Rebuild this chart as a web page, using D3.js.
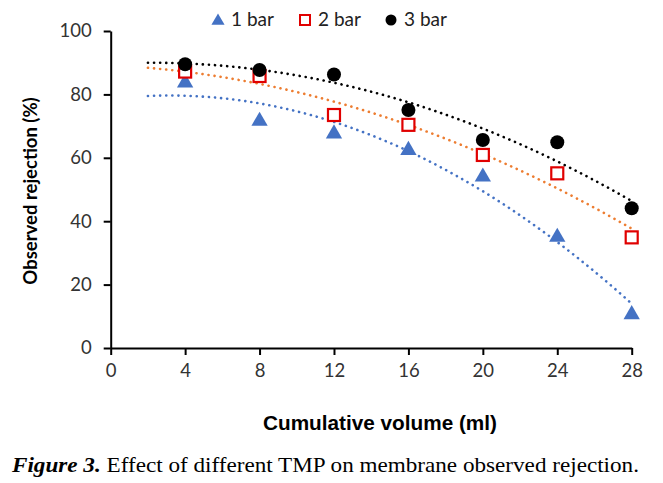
<!DOCTYPE html>
<html>
<head>
<meta charset="utf-8">
<script src="https://cdn.jsdelivr.net/npm/d3@7"></script>
<style>
html,body{margin:0;padding:0;background:#fff;}
svg{display:block;}
</style>
</head>
<body>
<svg id="chart" width="663" height="483"></svg>
<script>
const volumes = [4, 8, 12, 16, 20, 24, 28];
const bar1 = [84.0, 71.9, 67.9, 62.7, 54.3, 35.3, 10.9];
const bar2 = [87.2, 85.8, 73.5, 70.4, 60.9, 55.1, 34.9];
const bar3 = [89.5, 87.7, 86.3, 75.1, 65.6, 64.9, 44.1];
const seriesNames = ["1 bar", "2 bar", "3 bar"];
const xTicks = [0, 4, 8, 12, 16, 20, 24, 28];
const yTicks = [0, 20, 40, 60, 80, 100];
const trendStart = 2;

const svg = d3.select("#chart");
const L = 110.7, R = 631.7, T = 31, B = 348;
const x = d3.scaleLinear().domain([0, 28]).range([L, R]);
const y = d3.scaleLinear().domain([0, 100]).range([B, T]);

// quadratic least-squares fit (Excel polynomial trendline, order 2)
function polyfit2(xs, ys) {
  let n = xs.length, s = [0,0,0,0,0], t = [0,0,0];
  for (let i = 0; i < n; i++) {
    let p = 1;
    for (let k = 0; k < 5; k++) { s[k] += p; if (k < 3) t[k] += p * ys[i]; p *= xs[i]; }
  }
  const A = [[s[0],s[1],s[2],t[0]],[s[1],s[2],s[3],t[1]],[s[2],s[3],s[4],t[2]]];
  for (let i = 0; i < 3; i++) {
    for (let j = i + 1; j < 3; j++) {
      const f = A[j][i] / A[i][i];
      for (let k = i; k < 4; k++) A[j][k] -= f * A[i][k];
    }
  }
  const c = [0,0,0];
  for (let i = 2; i >= 0; i--) {
    let v = A[i][3];
    for (let k = i + 1; k < 3; k++) v -= A[i][k] * c[k];
    c[i] = v / A[i][i];
  }
  return c;
}

const series = [
  {name: seriesNames[0], vals: bar1, color: "#4472C4", trend: "#4472C4", shape: "tri"},
  {name: seriesNames[1], vals: bar2, color: "#E00000", trend: "#ED7D31", shape: "sq"},
  {name: seriesNames[2], vals: bar3, color: "#000000", trend: "#000000", shape: "circ"}
];

// trendlines
const line = d3.line().x(d => x(d[0])).y(d => y(d[1]));
series.forEach(s => {
  const c = polyfit2(volumes, s.vals);
  const pts = d3.range(trendStart, 28.001, 0.25).map(v => [v, c[0] + c[1]*v + c[2]*v*v]);
  svg.append("path").attr("d", line(pts)).attr("fill", "none")
    .attr("stroke", s.trend).attr("stroke-width", 2.6)
    .attr("stroke-linecap", "round").attr("stroke-dasharray", "0.1 6");
});

// axes
const xAxis = d3.axisBottom(x).tickValues(xTicks).tickSize(7).tickSizeOuter(0).tickPadding(9);
const gx = svg.append("g").attr("transform", `translate(0,${B})`).call(xAxis);
const yAxis = d3.axisLeft(y).tickValues(yTicks).tickSize(7).tickSizeOuter(0).tickPadding(12);
const gy = svg.append("g").attr("transform", `translate(${L},0)`).call(yAxis);
[gx, gy].forEach(g => {
  g.select(".domain").attr("stroke", "#000").attr("stroke-width", 2);
  g.selectAll(".tick line").attr("stroke", "#000").attr("stroke-width", 2);
  g.selectAll(".tick text").attr("fill", "#333").style("font-family", "Lato, 'Open Sans', sans-serif").style("font-size", "18.5px");
});

// markers
function drawMarker(g, shape, cx, cy, color) {
  if (shape === "tri") {
    g.append("path").attr("d", d3.symbol().type(d3.symbolTriangle).size(115)())
      .attr("transform", `translate(${cx},${cy + 1})`).attr("fill", color);
  } else if (shape === "sq") {
    g.append("rect").attr("x", cx - 6).attr("y", cy - 6).attr("width", 12).attr("height", 12)
      .attr("fill", "#fff").attr("stroke", color).attr("stroke-width", 2.2);
  } else {
    g.append("circle").attr("cx", cx).attr("cy", cy).attr("r", 7).attr("fill", color);
  }
}
const gm = svg.append("g");
series.forEach(s => {
  s.vals.forEach((v, i) => drawMarker(gm, s.shape, x(volumes[i]), y(v), s.color));
});

// legend
const legend = svg.append("g");
const legX = [218, 305, 391];
series.forEach((s, i) => {
  const mg = legend.append("g");
  if (s.shape === "tri") {
    mg.append("path").attr("d", d3.symbol().type(d3.symbolTriangle).size(75)())
      .attr("transform", `translate(${legX[i]},${21})`).attr("fill", s.color);
  } else if (s.shape === "sq") {
    mg.append("rect").attr("x", legX[i] - 5).attr("y", 15).attr("width", 10).attr("height", 10)
      .attr("fill", "#fff").attr("stroke", s.color).attr("stroke-width", 2);
  } else {
    mg.append("circle").attr("cx", legX[i]).attr("cy", 20).attr("r", 5.5).attr("fill", s.color);
  }
  legend.append("text").attr("x", legX[i] + 13).attr("y", 26).text(s.name)
    .attr("fill", "#222").style("font-family", "Lato, 'Open Sans', sans-serif").style("font-size", "19px");
});

// axis titles
svg.append("text").attr("x", 263).attr("y", 430)
  .text("Cumulative volume (ml)")
  .attr("textLength", 234).attr("lengthAdjust", "spacingAndGlyphs")
  .style("font-family", "'Liberation Sans Narrow', 'Liberation Sans', Arial, sans-serif")
  .style("font-weight", "bold").style("font-size", "20px").attr("fill", "#000");
svg.append("text").attr("transform", "translate(37,191) rotate(-90)").attr("text-anchor", "middle")
  .text("Observed rejection (%)")
  .style("font-family", "Lato, 'Open Sans', sans-serif")
  .style("font-weight", "bold").style("font-size", "18.5px").attr("fill", "#000");

// caption
const cap = svg.append("text").attr("x", 12).attr("y", 472)
  .attr("textLength", 627).attr("lengthAdjust", "spacingAndGlyphs")
  .style("font-family", "'Liberation Serif', 'Times New Roman', serif").style("font-size", "22px").attr("fill", "#000");
cap.append("tspan").text("Figure 3.").style("font-weight", "bold").style("font-style", "italic");
cap.append("tspan").text(" Effect of different TMP on membrane observed rejection.");
</script>
</body>
</html>
